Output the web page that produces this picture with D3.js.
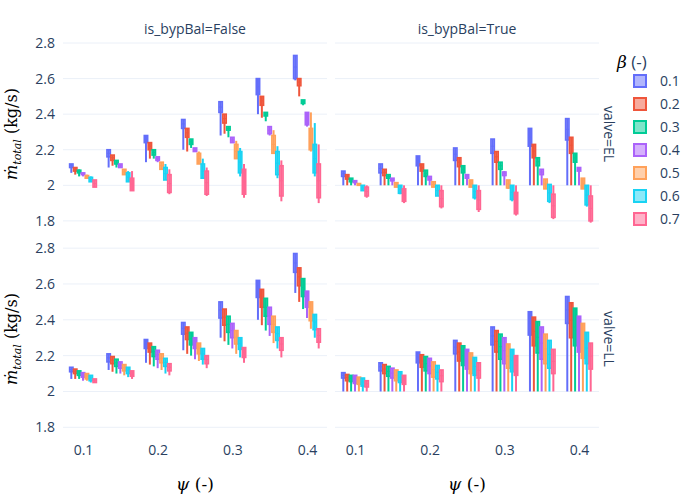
<!DOCTYPE html>
<html><head><meta charset="utf-8">
<script src="https://cdn.jsdelivr.net/npm/d3@7"></script>
<style>body{margin:0;background:#fff}text{font-family:"Open Sans",sans-serif;fill:#2a3f5f}</style>
</head><body><svg id="c" width="700" height="500"></svg>
<script>
const psi = [0.1,0.15,0.2,0.25,0.3,0.35,0.4];
const betas = ["0.1","0.2","0.3","0.4","0.5","0.6","0.7"];
const colors = ["#636efa","#EF553B","#00cc96","#ab63fa","#FFA15A","#19d3f3","#FF6692"];
const yTicks = [1.8,2,2.2,2.4,2.6,2.8];
const xTicks = [0.1,0.2,0.3,0.4];
// [lo, q1, q3, hi] per psi (rows) and beta (cols)
const elFalse = [
 [[2.07,2.10,2.12,2.12],[2.06,2.08,2.10,2.10],[2.05,2.07,2.085,2.09],[2.05,2.06,2.07,2.07],[2.04,2.04,2.055,2.06],[2.02,2.02,2.045,2.05],[1.99,1.99,2.03,2.03]],
 [[2.10,2.16,2.20,2.20],[2.11,2.14,2.17,2.17],[2.10,2.12,2.14,2.14],[2.10,2.10,2.12,2.12],[2.06,2.06,2.09,2.09],[2.02,2.02,2.07,2.08],[1.97,1.97,2.04,2.08]],
 [[2.13,2.24,2.28,2.28],[2.15,2.20,2.24,2.24],[2.15,2.17,2.20,2.20],[2.13,2.14,2.16,2.16],[2.09,2.09,2.13,2.13],[2.03,2.03,2.10,2.12],[1.95,1.96,2.06,2.09]],
 [[2.20,2.32,2.37,2.37],[2.19,2.27,2.32,2.32],[2.21,2.23,2.26,2.26],[2.19,2.19,2.21,2.21],[2.12,2.12,2.18,2.19],[2.04,2.04,2.12,2.15],[1.94,1.95,2.08,2.10]],
 [[2.28,2.41,2.47,2.47],[2.29,2.35,2.40,2.40],[2.27,2.31,2.33,2.33],[2.24,2.24,2.27,2.27],[2.15,2.15,2.23,2.25],[2.05,2.07,2.19,2.21],[1.93,1.95,2.09,2.12]],
 [[2.40,2.51,2.60,2.60],[2.38,2.45,2.50,2.50],[2.36,2.39,2.41,2.41],[2.28,2.29,2.33,2.33],[2.18,2.18,2.28,2.31],[2.04,2.06,2.19,2.22],[1.91,1.94,2.11,2.14]],
 [[2.59,2.60,2.73,2.73],[2.50,2.56,2.60,2.60],[2.45,2.46,2.48,2.48],[2.33,2.34,2.41,2.41],[2.19,2.20,2.32,2.41],[2.05,2.07,2.23,2.35],[1.90,1.93,2.12,2.23]]];
const elTrue = [
 [[2.0,2.05,2.08,2.08],[2.0,2.035,2.06,2.06],[2.0,2.02,2.04,2.04],[2.0,2.015,2.026,2.03],[2.0,2.0,2.01,2.01],[1.97,1.97,2.0,2.0],[1.93,1.94,1.99,2.0]],
 [[2.0,2.07,2.12,2.12],[2.0,2.055,2.09,2.09],[2.0,2.04,2.06,2.06],[2.0,2.025,2.04,2.04],[1.99,1.99,2.015,2.015],[1.95,1.955,2.0,2.0],[1.90,1.91,1.98,2.0]],
 [[2.0,2.11,2.165,2.165],[2.0,2.08,2.12,2.12],[2.0,2.05,2.085,2.085],[2.0,2.03,2.05,2.05],[1.99,1.99,2.02,2.02],[1.94,1.94,2.0,2.0],[1.87,1.88,1.97,2.0]],
 [[2.0,2.14,2.21,2.21],[2.0,2.105,2.155,2.155],[2.0,2.07,2.11,2.11],[2.0,2.04,2.06,2.06],[1.99,1.99,2.03,2.03],[1.92,1.93,2.0,2.0],[1.85,1.865,1.97,2.0]],
 [[2.0,2.18,2.26,2.26],[2.0,2.13,2.19,2.19],[2.0,2.09,2.13,2.13],[2.0,2.055,2.075,2.08],[1.98,1.985,2.03,2.03],[1.91,1.92,2.0,2.0],[1.83,1.84,1.96,2.0]],
 [[2.0,2.22,2.32,2.32],[2.0,2.155,2.23,2.23],[2.0,2.11,2.155,2.155],[2.0,2.06,2.09,2.09],[1.98,1.98,2.035,2.035],[1.90,1.91,2.005,2.005],[1.81,1.82,1.95,2.0]],
 [[2.0,2.255,2.375,2.375],[2.0,2.18,2.27,2.27],[2.0,2.13,2.18,2.18],[2.0,2.08,2.10,2.10],[1.98,1.98,2.04,2.04],[1.88,1.89,2.0,2.0],[1.79,1.80,1.94,2.0]]];
const llFalse = [
 [[2.07,2.11,2.135,2.135],[2.07,2.10,2.125,2.125],[2.07,2.09,2.115,2.115],[2.06,2.08,2.105,2.105],[2.06,2.07,2.10,2.10],[2.05,2.06,2.09,2.09],[2.05,2.05,2.07,2.07]],
 [[2.12,2.165,2.21,2.21],[2.11,2.155,2.195,2.195],[2.10,2.14,2.18,2.18],[2.10,2.13,2.165,2.165],[2.09,2.115,2.15,2.15],[2.08,2.10,2.135,2.135],[2.07,2.085,2.115,2.115]],
 [[2.16,2.24,2.29,2.29],[2.15,2.22,2.27,2.27],[2.14,2.195,2.25,2.25],[2.13,2.18,2.23,2.23],[2.12,2.16,2.21,2.21],[2.10,2.14,2.185,2.185],[2.09,2.115,2.155,2.155]],
 [[2.23,2.32,2.385,2.385],[2.21,2.29,2.36,2.36],[2.20,2.26,2.33,2.33],[2.18,2.24,2.30,2.30],[2.17,2.21,2.27,2.27],[2.15,2.18,2.24,2.24],[2.13,2.155,2.20,2.20]],
 [[2.30,2.41,2.50,2.50],[2.28,2.37,2.46,2.46],[2.26,2.33,2.42,2.42],[2.24,2.30,2.38,2.38],[2.21,2.265,2.34,2.34],[2.19,2.235,2.30,2.30],[2.16,2.19,2.245,2.245]],
 [[2.40,2.525,2.62,2.62],[2.37,2.47,2.57,2.57],[2.34,2.42,2.52,2.52],[2.31,2.375,2.47,2.47],[2.27,2.33,2.42,2.42],[2.24,2.285,2.36,2.36],[2.19,2.23,2.30,2.30]],
 [[2.55,2.665,2.77,2.77],[2.50,2.59,2.69,2.69],[2.46,2.53,2.63,2.63],[2.41,2.47,2.56,2.56],[2.35,2.395,2.50,2.50],[2.30,2.345,2.43,2.43],[2.24,2.275,2.35,2.35]]];
const llTrue = [
 [[2.0,2.075,2.105,2.105],[2.0,2.06,2.095,2.095],[2.0,2.055,2.09,2.09],[2.0,2.045,2.09,2.09],[2.0,2.04,2.08,2.08],[2.0,2.03,2.075,2.075],[2.0,2.025,2.06,2.06]],
 [[2.0,2.115,2.16,2.16],[2.0,2.10,2.15,2.15],[2.0,2.085,2.14,2.14],[2.0,2.075,2.13,2.13],[2.0,2.06,2.12,2.12],[2.0,2.05,2.11,2.11],[2.0,2.04,2.09,2.09]],
 [[2.0,2.16,2.22,2.22],[2.0,2.135,2.205,2.205],[2.0,2.115,2.195,2.195],[2.0,2.10,2.185,2.185],[2.0,2.08,2.165,2.165],[2.0,2.07,2.145,2.145],[2.0,2.055,2.12,2.12]],
 [[2.0,2.21,2.285,2.285],[2.0,2.17,2.27,2.27],[2.0,2.145,2.255,2.255],[2.0,2.125,2.235,2.235],[2.0,2.10,2.215,2.215],[2.0,2.09,2.19,2.19],[2.0,2.075,2.16,2.16]],
 [[2.0,2.26,2.36,2.36],[2.0,2.22,2.34,2.34],[2.0,2.18,2.32,2.32],[2.0,2.155,2.30,2.30],[2.0,2.13,2.265,2.265],[2.0,2.11,2.235,2.235],[2.0,2.09,2.20,2.20]],
 [[2.0,2.315,2.445,2.445],[2.0,2.255,2.415,2.415],[2.0,2.215,2.39,2.39],[2.0,2.18,2.36,2.36],[2.0,2.155,2.32,2.32],[2.0,2.13,2.285,2.285],[2.0,2.10,2.235,2.235]],
 [[2.0,2.38,2.53,2.53],[2.0,2.30,2.495,2.495],[2.0,2.255,2.465,2.465],[2.0,2.22,2.42,2.42],[2.0,2.185,2.38,2.38],[2.0,2.155,2.33,2.33],[2.0,2.125,2.27,2.27]]];

const svg = d3.select("#c");
const panels = [
 {d:elFalse,x0:63,y0:40,y1:228,col:0,row:0},
 {d:elTrue,x0:335,y0:40,y1:228,col:1,row:0},
 {d:llFalse,x0:63,y0:246,y1:435,col:0,row:1},
 {d:llTrue,x0:335,y0:246,y1:435,col:1,row:1}];
const W = 264;
panels.forEach(p=>{
  const x = d3.scaleLinear().domain([0.0732,0.4268]).range([p.x0,p.x0+W]);
  const yr = p.row===0 ? [2.817,1.76] : [2.812,1.757];
  const y = d3.scaleLinear().domain(yr).range([p.y0,p.y1]);
  const g = svg.append("g");
  g.selectAll(".grid").data(yTicks).join("line").attr("x1",p.x0).attr("x2",p.x0+W)
    .attr("y1",d=>y(d)).attr("y2",d=>y(d)).attr("stroke","#ebf0f8").attr("stroke-width",1);
  if(p.col===0){
    const ax = g.append("g").attr("transform",`translate(${p.x0},0)`)
      .call(d3.axisLeft(y).tickValues(yTicks).tickSize(0).tickPadding(8).tickFormat(d3.format("")));
    ax.select(".domain").remove();
    ax.selectAll("text").style("font-size","14px").attr("fill","#2a3f5f");
  }
  if(p.row===1){
    const ax = g.append("g").attr("transform",`translate(0,${p.y1})`)
      .call(d3.axisBottom(x).tickValues(xTicks).tickSize(0).tickPadding(10).tickFormat(d3.format("")));
    ax.select(".domain").remove();
    ax.selectAll("text").style("font-size","14px").attr("fill","#2a3f5f");
  }
  const slot = 3.9, bw = 3.4;
  p.d.forEach((row,i)=>{
    row.forEach((b,j)=>{
      const cx = x(psi[i]) + (j-3)*slot;
      const c = colors[j];
      const bg = g.append("g");
      bg.append("line").attr("x1",cx).attr("x2",cx).attr("y1",y(b[0])).attr("y2",y(b[3]))
        .attr("stroke",c).attr("stroke-width",2);
      bg.append("rect").attr("x",cx-bw/2).attr("width",bw).attr("y",y(b[2]))
        .attr("height",Math.max(1,y(b[1])-y(b[2]))).attr("fill",c).attr("fill-opacity",0.5)
        .attr("stroke",c).attr("stroke-width",1.6);
      const med=(b[1]+b[2])/2;
      bg.append("line").attr("x1",cx-bw/2).attr("x2",cx+bw/2).attr("y1",y(med)).attr("y2",y(med))
        .attr("stroke",c).attr("stroke-width",1);
    });
  });
});
svg.append("text").attr("x",195).attr("y",34).attr("text-anchor","middle").style("font-size","14px").text("is_bypBal=False");
svg.append("text").attr("x",467).attr("y",34).attr("text-anchor","middle").style("font-size","14px").text("is_bypBal=True");
[["valve=EL",134],["valve=LL",339]].forEach(([t,cy])=>{
  svg.append("text").attr("transform",`translate(604,${cy}) rotate(90)`).attr("text-anchor","middle")
    .style("font-size","14px").text(t);
});
[195,467].forEach(cx=>{
  const t=svg.append("text").attr("x",cx).attr("y",490).attr("text-anchor","middle")
    .style("font-family","'DejaVu Serif',serif").style("font-size","17px").attr("fill","#000");
  t.append("tspan").style("font-style","italic").attr("fill","#000").text("ψ");
  t.append("tspan").attr("fill","#000").text(" (-)");
});
[134,339].forEach(cy=>{
  const t=svg.append("text").attr("transform",`translate(17,${cy}) rotate(-90)`).attr("text-anchor","middle")
    .style("font-family","'DejaVu Serif',serif").style("font-size","16px");
  t.append("tspan").style("font-style","italic").attr("fill","#000").text("ṁ");
  t.append("tspan").style("font-style","italic").style("font-size","11px").attr("dy",4).attr("fill","#000").text("total");
  t.append("tspan").attr("dy",-4).attr("fill","#000").text("  (kg/s)");
});
const lt = svg.append("text").attr("x",617).attr("y",68).style("font-size","17px");
lt.append("tspan").style("font-family","'DejaVu Serif',serif").style("font-style","italic").attr("fill","#000").text("β");
lt.append("tspan").attr("fill","#2a3f5f").text(" (-)");
betas.forEach((b,j)=>{
  const yy = 81 + j*23;
  svg.append("rect").attr("x",634).attr("y",yy-6).attr("width",12).attr("height",12)
    .attr("fill",colors[j]).attr("fill-opacity",0.5).attr("stroke",colors[j]).attr("stroke-width",2);
  svg.append("text").attr("x",660).attr("y",yy+5).style("font-size","14px").text(b);
});
</script></body></html>
